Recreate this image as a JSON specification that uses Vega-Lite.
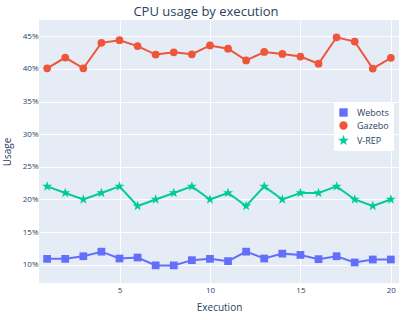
{
  "$schema": "https://vega.github.io/schema/vega-lite/v6.json",
  "autosize": "none",
  "width": 360,
  "height": 263,
  "padding": {"left": 39, "top": 20, "right": 16, "bottom": 37},
  "background": "white",
  "title": {"text": "CPU usage by execution", "font": "Open Sans", "fontSize": 13, "fontWeight": "normal", "color": "#2a3f5f", "anchor": "middle", "dx": -13, "offset": 1},
  "config": {
    "view": {"fill": "#E5ECF6", "stroke": null},
    "axis": {"domain": false, "ticks": false, "gridColor": "white", "gridWidth": 1, "labelFont": "Open Sans", "labelFontSize": 8, "labelColor": "#2a3f5f", "titleFont": "Open Sans", "titleFontSize": 10, "titleFontWeight": "normal", "titleColor": "#2a3f5f"},
    "legend": {"title": null, "orient": "none", "legendX": 295, "legendY": 83, "fillColor": "white", "padding": 5, "labelFont": "Open Sans", "labelFontSize": 9, "labelColor": "#2a3f5f", "symbolSize": 70, "rowPadding": 3, "labelOffset": 9, "symbolStrokeWidth": 0}
  },
  "data": {"values": [
    {"Execution": 1, "Simulator": "Webots", "Usage": 10.9},
    {"Execution": 2, "Simulator": "Webots", "Usage": 10.9},
    {"Execution": 3, "Simulator": "Webots", "Usage": 11.3},
    {"Execution": 4, "Simulator": "Webots", "Usage": 12.0},
    {"Execution": 5, "Simulator": "Webots", "Usage": 10.95},
    {"Execution": 6, "Simulator": "Webots", "Usage": 11.1},
    {"Execution": 7, "Simulator": "Webots", "Usage": 9.9},
    {"Execution": 8, "Simulator": "Webots", "Usage": 9.9},
    {"Execution": 9, "Simulator": "Webots", "Usage": 10.7},
    {"Execution": 10, "Simulator": "Webots", "Usage": 10.9},
    {"Execution": 11, "Simulator": "Webots", "Usage": 10.55},
    {"Execution": 12, "Simulator": "Webots", "Usage": 12.0},
    {"Execution": 13, "Simulator": "Webots", "Usage": 10.95},
    {"Execution": 14, "Simulator": "Webots", "Usage": 11.7},
    {"Execution": 15, "Simulator": "Webots", "Usage": 11.5},
    {"Execution": 16, "Simulator": "Webots", "Usage": 10.85},
    {"Execution": 17, "Simulator": "Webots", "Usage": 11.3},
    {"Execution": 18, "Simulator": "Webots", "Usage": 10.35},
    {"Execution": 19, "Simulator": "Webots", "Usage": 10.8},
    {"Execution": 20, "Simulator": "Webots", "Usage": 10.8},
    {"Execution": 1, "Simulator": "Gazebo", "Usage": 40.1},
    {"Execution": 2, "Simulator": "Gazebo", "Usage": 41.75},
    {"Execution": 3, "Simulator": "Gazebo", "Usage": 40.1},
    {"Execution": 4, "Simulator": "Gazebo", "Usage": 44.0},
    {"Execution": 5, "Simulator": "Gazebo", "Usage": 44.4},
    {"Execution": 6, "Simulator": "Gazebo", "Usage": 43.5},
    {"Execution": 7, "Simulator": "Gazebo", "Usage": 42.2},
    {"Execution": 8, "Simulator": "Gazebo", "Usage": 42.55},
    {"Execution": 9, "Simulator": "Gazebo", "Usage": 42.25},
    {"Execution": 10, "Simulator": "Gazebo", "Usage": 43.6},
    {"Execution": 11, "Simulator": "Gazebo", "Usage": 43.1},
    {"Execution": 12, "Simulator": "Gazebo", "Usage": 41.3},
    {"Execution": 13, "Simulator": "Gazebo", "Usage": 42.6},
    {"Execution": 14, "Simulator": "Gazebo", "Usage": 42.3},
    {"Execution": 15, "Simulator": "Gazebo", "Usage": 41.9},
    {"Execution": 16, "Simulator": "Gazebo", "Usage": 40.8},
    {"Execution": 17, "Simulator": "Gazebo", "Usage": 44.85},
    {"Execution": 18, "Simulator": "Gazebo", "Usage": 44.2},
    {"Execution": 19, "Simulator": "Gazebo", "Usage": 40.05},
    {"Execution": 20, "Simulator": "Gazebo", "Usage": 41.7},
    {"Execution": 1, "Simulator": "V-REP", "Usage": 22},
    {"Execution": 2, "Simulator": "V-REP", "Usage": 21},
    {"Execution": 3, "Simulator": "V-REP", "Usage": 20},
    {"Execution": 4, "Simulator": "V-REP", "Usage": 21},
    {"Execution": 5, "Simulator": "V-REP", "Usage": 22},
    {"Execution": 6, "Simulator": "V-REP", "Usage": 19},
    {"Execution": 7, "Simulator": "V-REP", "Usage": 20},
    {"Execution": 8, "Simulator": "V-REP", "Usage": 21},
    {"Execution": 9, "Simulator": "V-REP", "Usage": 22},
    {"Execution": 10, "Simulator": "V-REP", "Usage": 20},
    {"Execution": 11, "Simulator": "V-REP", "Usage": 21},
    {"Execution": 12, "Simulator": "V-REP", "Usage": 19},
    {"Execution": 13, "Simulator": "V-REP", "Usage": 22},
    {"Execution": 14, "Simulator": "V-REP", "Usage": 20},
    {"Execution": 15, "Simulator": "V-REP", "Usage": 21},
    {"Execution": 16, "Simulator": "V-REP", "Usage": 21},
    {"Execution": 17, "Simulator": "V-REP", "Usage": 22},
    {"Execution": 18, "Simulator": "V-REP", "Usage": 20},
    {"Execution": 19, "Simulator": "V-REP", "Usage": 19},
    {"Execution": 20, "Simulator": "V-REP", "Usage": 20}
  ]},
  "encoding": {
    "x": {"field": "Execution", "type": "quantitative", "scale": {"domain": [0.55, 20.45], "nice": false, "zero": false}, "axis": {"values": [5, 10, 15, 20], "title": "Execution", "labelPadding": 3, "titlePadding": 8}},
    "y": {"field": "Usage", "type": "quantitative", "scale": {"domain": [7.2, 47.5], "nice": false, "zero": false}, "axis": {"values": [10, 15, 20, 25, 30, 35, 40, 45], "labelExpr": "datum.value + '%'", "title": "Usage", "labelPadding": 1, "titlePadding": 10}},
    "color": {"field": "Simulator", "type": "nominal", "scale": {"domain": ["Webots", "Gazebo", "V-REP"], "range": ["#636efa", "#EF553B", "#00cc96"]}}
  },
  "layer": [
    {"mark": {"type": "line", "strokeWidth": 2}},
    {"mark": {"type": "point", "filled": true, "opacity": 1, "size": 60},
     "encoding": {
       "shape": {"field": "Simulator", "type": "nominal", "scale": {"domain": ["Webots", "Gazebo", "V-REP"], "range": ["square", "circle", "M0,-1.35L0.317,-0.437L1.284,-0.417L0.513,0.167L0.794,1.092L0,0.54L-0.794,1.092L-0.513,0.167L-1.284,-0.417L-0.317,-0.437Z"]}}
     }
    }
  ]
}
